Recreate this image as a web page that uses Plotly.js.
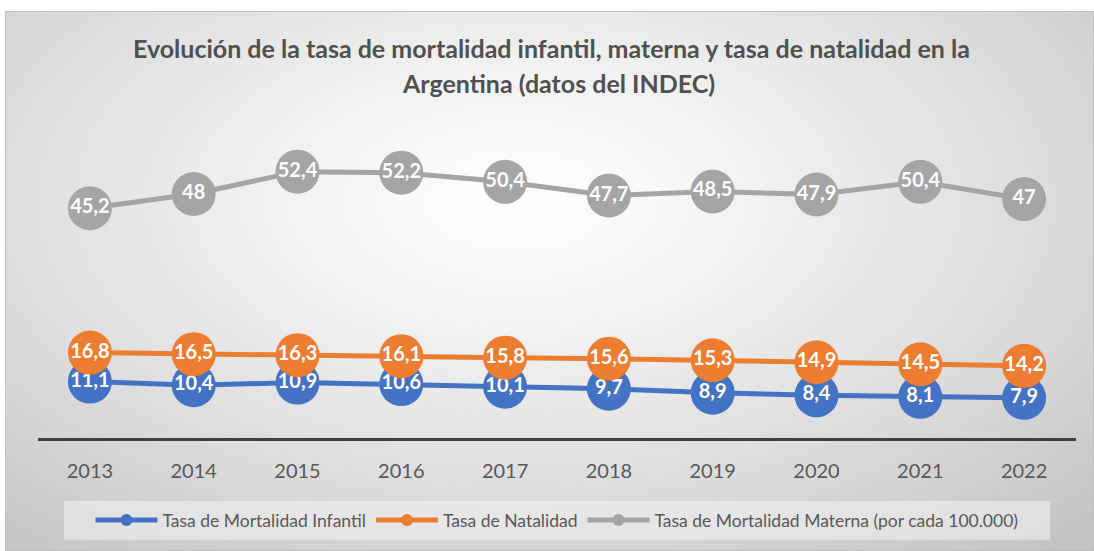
<!DOCTYPE html>
<html><head><meta charset="utf-8">
<script src="https://cdn.plot.ly/plotly-3.0.1.min.js"></script>
<style>
body{margin:0;background:#fff;}
#bg{position:absolute;left:5px;top:11px;width:1087px;height:538px;border:1px solid #bfbfbf;
background:radial-gradient(ellipse 75% 85% at 47% 35%, #ffffff 0%, #f4f4f4 25%, #dcdcdc 65%, #c4c4c4 100%);}
#plot{position:absolute;left:0;top:0;width:1094px;height:551px;}
</style></head>
<body><div id="bg"></div><div id="plot"></div>
<script>
const years = ['2013','2014','2015','2016','2017','2018','2019','2020','2021','2022'];
const mortalidadInfantil = [11.1,10.4,10.9,10.6,10.1,9.7,8.9,8.4,8.1,7.9];
const natalidad = [16.8,16.5,16.3,16.1,15.8,15.6,15.3,14.9,14.5,14.2];
const mortalidadMaterna = [45.2,48,52.4,52.2,50.4,47.7,48.5,47.9,50.4,47];
const seriesNames = ['Tasa de Mortalidad Infantil','Tasa de Natalidad','Tasa de Mortalidad Materna (por cada 100.000)'];
const colors = ['#4472C4','#ED7D31','#A5A5A5'];
const fmt = v => String(v).replace('.', ',');
const font = 'Lato, "Open Sans", sans-serif';
const traces = [mortalidadInfantil, natalidad, mortalidadMaterna].map((vals,i)=>({
  x: years, y: vals, name: seriesNames[i], type:'scatter', mode:'lines+markers+text',
  text: vals.map(fmt), textposition:'middle center',
  textfont:{family:font, size:20, color:'#ffffff', weight:'bold'},
  line:{color:colors[i], width:5},
  marker:{color:colors[i], size:44},
  cliponaxis:false, hoverinfo:'skip'
}));
const layout = {
  width:1094, height:551,
  paper_bgcolor:'rgba(0,0,0,0)', plot_bgcolor:'rgba(0,0,0,0)',
  margin:{l:38, r:18, t:133, b:113},
  font:{family:font, color:'#595959'},
  showlegend:true,
  xaxis:{type:'category', range:[-0.5,9.5], showline:true, linecolor:'#404040', linewidth:3,
    ticks:'', showgrid:false, zeroline:false, tickfont:{size:20, color:'#595959', family:font}, ticklabelstandoff:13},
  yaxis:{range:[0,60], showgrid:false, zeroline:false, showticklabels:false, showline:false},
  legend:{orientation:'h', x:0.5, xanchor:'center', y:-0.269, yanchor:'middle',
    bgcolor:'rgba(0,0,0,0)', font:{size:17.5, color:'#595959', family:font},
    itemwidth:62, tracegroupgap:0, traceorder:'normal', itemsizing:'constant'},
  shapes:[
    {type:'rect', xref:'paper', yref:'paper', x0:0.025, x1:0.975, y0:-0.2066, y1:-0.334,
      fillcolor:'rgba(240,240,240,0.6)', line:{width:0}, layer:'below'}
  ],
  annotations:[
    {text:'<b>Evolución de la tasa de mortalidad infantil, materna y tasa de natalidad en la</b>', xref:'paper', yref:'paper',
      x:0.495, y:1, yshift:85, showarrow:false, font:{size:25, color:'#505050', family:font}, yanchor:'middle'},
    {text:'<b>Argentina (datos del INDEC)</b>', xref:'paper', yref:'paper',
      x:0.501, y:1, yshift:50, showarrow:false, font:{size:25, color:'#505050', family:font}, yanchor:'middle'}
  ]
};
Plotly.newPlot('plot', traces, layout, {displayModeBar:false, staticPlot:true});
</script></body></html>
